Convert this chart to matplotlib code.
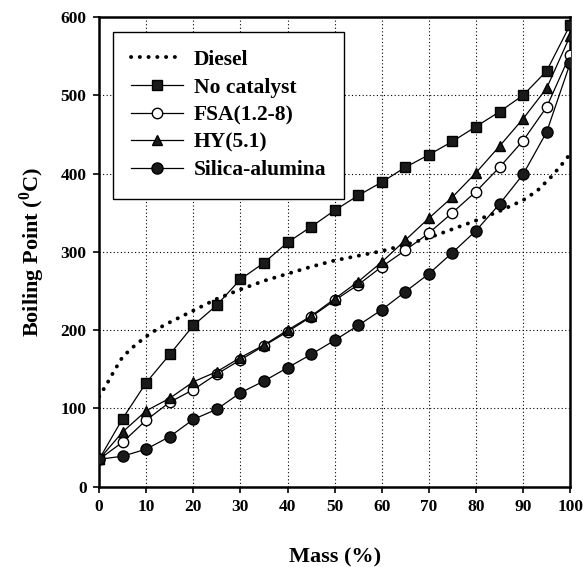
import matplotlib
matplotlib.use("Agg")
import matplotlib.pyplot as plt

plt.rcParams['font.family'] = ['Liberation Serif', 'DejaVu Serif']
plt.rcParams['font.weight'] = 'bold'
plt.rcParams['mathtext.fontset'] = 'custom'
plt.rcParams['mathtext.rm'] = 'Liberation Serif:bold'
plt.rcParams['mathtext.bf'] = 'Liberation Serif:bold'

# data
mass = [0, 5, 10, 15, 20, 25, 30, 35, 40, 45, 50, 55, 60, 65, 70, 75, 80, 85, 90, 95, 100]
no_catalyst = [35, 87, 133, 169, 206, 232, 265, 286, 312, 332, 353, 372, 389, 408, 424, 441, 460, 479, 500, 531, 590]
fsa = [35, 57, 85, 108, 124, 144, 162, 180, 198, 217, 238, 258, 281, 302, 324, 350, 377, 408, 442, 485, 552]
hy = [35, 70, 97, 113, 134, 147, 165, 181, 200, 218, 240, 262, 287, 315, 343, 370, 401, 435, 470, 509, 576]
silica = [35, 39, 48, 64, 86, 99, 120, 135, 152, 169, 187, 206, 226, 249, 272, 299, 327, 361, 399, 453, 541]

diesel_mass = [0, 1, 2, 3, 4, 5, 7.5, 10, 12.5, 15, 20, 25, 30, 35, 40, 45, 50, 55, 60,
               65, 70, 75, 80, 85, 90, 93, 96, 98, 100]
diesel_bp = [115, 125, 135, 146, 156, 166, 180, 192, 202, 210, 225, 240, 252, 263, 272, 281, 289, 295, 301,
             309, 318, 329, 340, 352, 366, 378, 396, 410, 425]

fig = plt.figure(figsize=(5.83, 5.67), dpi=100)
ax = fig.add_axes([0.170, 0.1416, 0.808, 0.8284])

ax.plot(diesel_mass, diesel_bp, color='black', lw=2.8, linestyle=(0, (0.05, 2.2)),
        dash_capstyle='round', label='Diesel', zorder=3)
ax.plot(mass, no_catalyst, '-s', color='black', lw=0.9, ms=6.8, mfc='#1a1a1a', mec='black',
        label='No catalyst', zorder=4)
ax.plot(mass, fsa, '-o', color='black', lw=0.9, ms=7.5, mfc='white', mec='black', mew=1.0,
        label='FSA(1.2-8)', zorder=4)
ax.plot(mass, hy, '-^', color='black', lw=0.9, ms=7.8, mfc='#1a1a1a', mec='black',
        label='HY(5.1)', zorder=4)
ax.plot(mass, silica, '-o', color='black', lw=0.9, ms=8.0, mfc='#1a1a1a', mec='black',
        label='Silica-alumina', zorder=4)

ax.set_xlim(0, 100)
ax.set_ylim(0, 600)
ax.set_xticks(range(0, 101, 10))
ax.set_yticks(range(0, 601, 100))
ax.grid(True, color='black', linestyle=(0, (1, 2.2)), lw=0.8)
ax.set_axisbelow(True)

for s in ax.spines.values():
    s.set_linewidth(1.8)
ax.tick_params(direction='out', length=4, width=1.2, labelsize=12.5, pad=5)

ax.set_xlabel('Mass (%)', fontsize=16, fontweight='bold', labelpad=23)
ax.set_ylabel(r'Boiling Point ($^{0}$C)', fontsize=16, fontweight='bold', labelpad=10)

leg = ax.legend(loc='upper left', bbox_to_anchor=(0.029, 0.969), borderaxespad=0,
                fontsize=15.5, handlelength=2.4, handletextpad=0.5, labelspacing=0.35,
                fancybox=False, framealpha=1, edgecolor='black', borderpad=0.85)
leg.get_frame().set_linewidth(1.0)

fig.savefig('out.png', dpi=100)
